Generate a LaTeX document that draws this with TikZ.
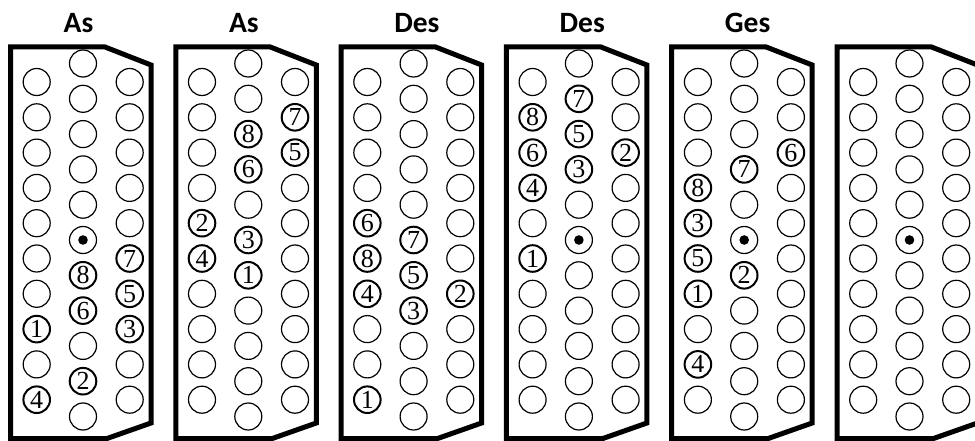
\documentclass[tikz,border=0pt]{standalone}
\usepackage{fontspec}
\setmainfont{Liberation Serif}
\newfontfamily\digfont{Liberation Serif}
\newfontfamily\titlefont{Carlito}
\newcommand\mkd[4]{\expandafter\gdef\csname dg-#1-#2-#3\endcsname{#4}}
\newcommand\bigdig[1]{{\digfont\fontsize{26pt}{26pt}\selectfont #1}}
% panel 1
\mkd{1}{L}{7}{1}\mkd{1}{L}{9}{4}
\mkd{1}{M}{6}{8}\mkd{1}{M}{7}{6}\mkd{1}{M}{9}{2}
\mkd{1}{R}{5}{7}\mkd{1}{R}{6}{5}\mkd{1}{R}{7}{3}
% panel 2
\mkd{2}{L}{4}{2}\mkd{2}{L}{5}{4}
\mkd{2}{M}{2}{8}\mkd{2}{M}{3}{6}\mkd{2}{M}{5}{3}\mkd{2}{M}{6}{1}
\mkd{2}{R}{1}{7}\mkd{2}{R}{2}{5}
% panel 3
\mkd{3}{L}{4}{6}\mkd{3}{L}{5}{8}\mkd{3}{L}{6}{4}\mkd{3}{L}{9}{1}
\mkd{3}{M}{5}{7}\mkd{3}{M}{6}{5}\mkd{3}{M}{7}{3}
\mkd{3}{R}{6}{2}
% panel 4
\mkd{4}{L}{1}{8}\mkd{4}{L}{2}{6}\mkd{4}{L}{3}{4}\mkd{4}{L}{5}{1}
\mkd{4}{M}{1}{7}\mkd{4}{M}{2}{5}\mkd{4}{M}{3}{3}
\mkd{4}{R}{2}{2}
% panel 5
\mkd{5}{L}{3}{8}\mkd{5}{L}{4}{3}\mkd{5}{L}{5}{5}\mkd{5}{L}{6}{1}\mkd{5}{L}{8}{4}
\mkd{5}{M}{3}{7}\mkd{5}{M}{6}{2}
\mkd{5}{R}{2}{6}
\begin{document}
\begin{tikzpicture}[x=1pt,y=-1pt,
  keyc/.style={circle,draw=black,line width=1.2pt,minimum size=27pt,inner sep=0pt},
  keyd/.style={circle,draw=black,line width=2pt,minimum size=26.6pt,inner sep=0pt},
  outline/.style={line width=5pt,line join=miter},
  ttl/.style={anchor=base west,inner sep=0pt,font=\titlefont\bfseries\fontsize{29.5}{30}\selectfont}]
\useasboundingbox (0,0) rectangle (975,441);
\foreach \p/\t/\hasdot in {1/As/1,2/As/0,3/Des/0,4/Des/1,5/Ges/1,6//1}{
  \pgfmathsetmacro\lx{10.5+165.3*(\p-1)}
  \node[ttl] (title\p) at (\lx+53,33) {\t};
  \draw[outline] (\lx,47) -- (\lx+94.5,47) -- (\lx+140.5,65) -- (\lx+140.5,423)
     -- (\lx+96.5,438.5) -- (\lx,438.5) -- cycle;
  \foreach \c/\dx/\n/\yy in {L/26.2/9/82, M/72.5/10/63.5, R/119.2/9/82}{
    \foreach \r in {0,...,\n}{
      \ifcsname dg-\p-\c-\r\endcsname
        \node[keyd] (k\p\c\r) at (\lx+\dx,\yy+35.3*\r) {\bigdig{\csname dg-\p-\c-\r\endcsname}};
      \else
        \node[keyc] (k\p\c\r) at (\lx+\dx,\yy+35.3*\r) {};
      \fi
    }
  }
  \ifnum\hasdot=1
    \fill (k\p M5.center) circle (4.8pt);
  \fi
}
\end{tikzpicture}
\end{document}
